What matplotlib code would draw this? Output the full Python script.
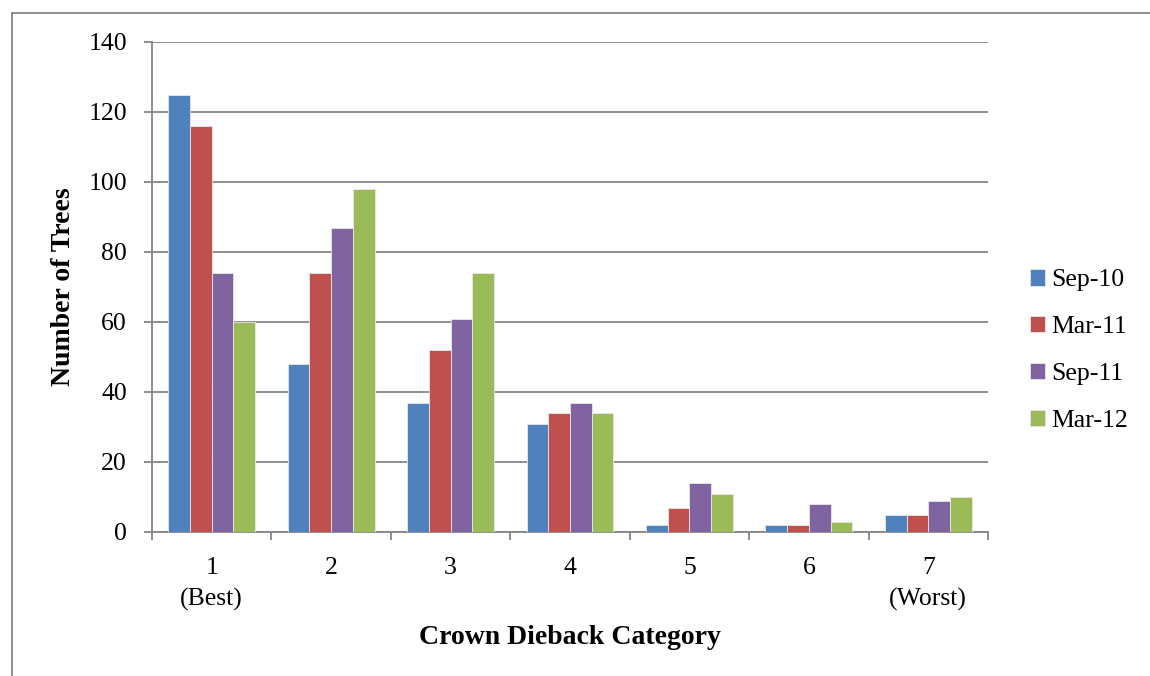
import matplotlib
matplotlib.use("Agg")
import matplotlib.pyplot as plt
from matplotlib.lines import Line2D
import numpy as np

categories = ["1\n(Best)", "2", "3", "4", "5", "6", "7\n(Worst)"]
series_names = ["Sep-10", "Mar-11", "Sep-11", "Mar-12"]
sep10 = [125, 48, 37, 31, 2, 2, 5]
mar11 = [116, 74, 52, 34, 7, 2, 5]
sep11 = [74, 87, 61, 37, 14, 8, 9]
mar12 = [60, 98, 74, 34, 11, 3, 10]
colors = ["#4F81BD", "#C0504D", "#8064A2", "#9BBB59"]

plt.rcParams['font.family'] = ['Liberation Serif', 'DejaVu Serif']

fig = plt.figure(figsize=(11.5, 6.76), dpi=100)
ax = fig.add_axes([152/1150, 1-532/676, (988-152)/1150, (532-42)/676])

x = np.arange(1, len(categories) + 1)
n = len(series_names)
bw = 1.0 / (n + 1.5)
for i, (vals, name, c) in enumerate(zip([sep10, mar11, sep11, mar12], series_names, colors)):
    offs = (i - (n - 1) / 2) * bw
    ax.bar(x + offs, vals, width=bw, color=c, label=name,
           edgecolor="#e8e8e8", linewidth=0.6, zorder=3)

ax.set_xlim(0.5, len(categories) + 0.5)
ax.set_ylim(0, 140)
ax.set_yticks(np.arange(0, 141, 20))
ax.yaxis.grid(True, color="#868686", linewidth=1.3, zorder=0)
ax.set_axisbelow(True)

ax.set_xticks(x)
ax.set_xticklabels(categories, fontsize=18.5, linespacing=1.5, va="top")
ax.set_xticks(np.arange(0.5, len(categories) + 1, 1), minor=True)
ax.tick_params(axis="x", which="major", length=0, pad=18)
ax.tick_params(axis="x", which="minor", length=6, width=1.3, color="#868686", direction="out")
ax.tick_params(axis="y", length=6, width=1.3, color="#868686", direction="out", labelsize=18.5, pad=12)

for s in ["top", "right"]:
    ax.spines[s].set_visible(False)
for s in ["left", "bottom"]:
    ax.spines[s].set_color("#868686")
    ax.spines[s].set_linewidth(1.3)

ax.set_ylabel("Number of Trees", fontsize=20, fontweight="bold", labelpad=9)
ax.set_xlabel("Crown Dieback Category", fontsize=20, fontweight="bold", labelpad=10)

ax.legend(loc="center left", bbox_to_anchor=(1.05, 0.37), frameon=False,
          fontsize=18.5, handlelength=0.6, handleheight=0.6, handletextpad=0.25,
          labelspacing=0.96, borderaxespad=0, borderpad=0)

# outer chart frame
fig.add_artist(Line2D([12/1150, 12/1150], [0, 1-13/676], color="#868686", lw=1.3))
fig.add_artist(Line2D([12/1150, 1], [1-13/676, 1-13/676], color="#868686", lw=1.3))

fig.savefig("out.png", dpi=100)
